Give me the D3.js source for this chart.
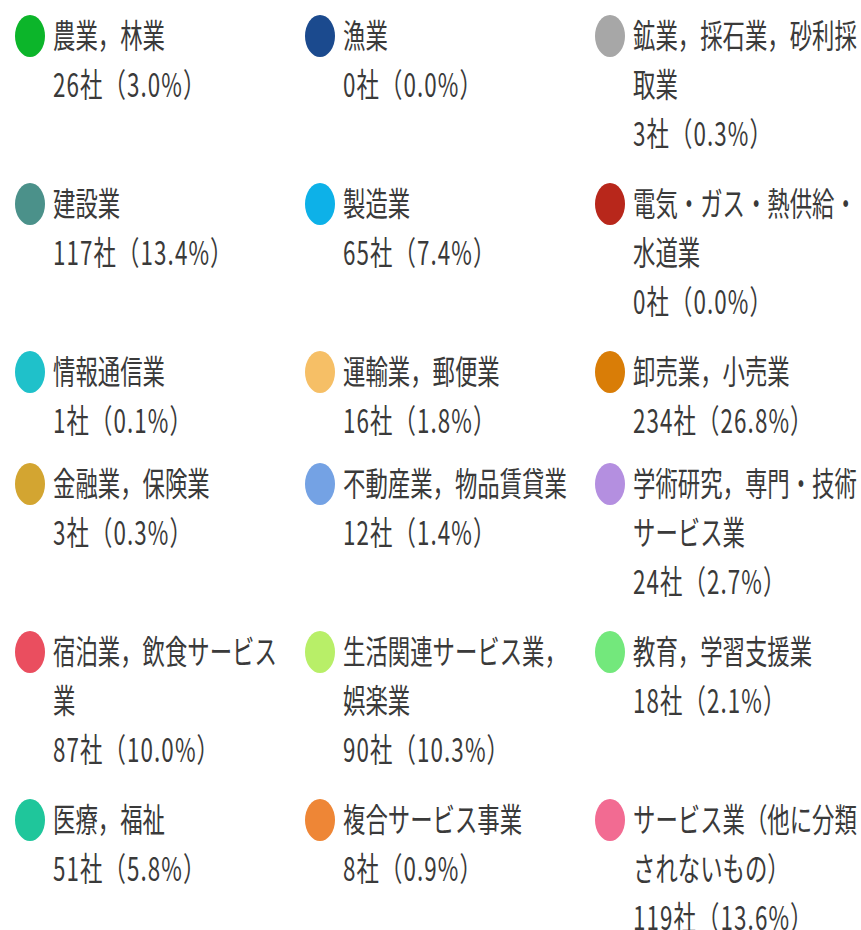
<!DOCTYPE html>
<html>
<head>
<meta charset="utf-8">
<script src="https://cdn.jsdelivr.net/npm/d3@7"></script>
<style>
    body { margin: 0; background: #ffffff; }
</style>
</head>
<body>
<svg id="Legend"></svg>
<script>

    // industry categories
    var industries = [
        "農業，林業", "漁業", "鉱業，採石業，砂利採取業",
        "建設業", "製造業", "電気・ガス・熱供給・水道業",
        "情報通信業", "運輸業，郵便業", "卸売業，小売業",
        "金融業，保険業", "不動産業，物品賃貸業", "学術研究，専門・技術サービス業",
        "宿泊業，飲食サービス業", "生活関連サービス業，娯楽業", "教育，学習支援業",
        "医療，福祉", "複合サービス事業", "サービス業（他に分類されないもの）"
    ]

    var companies = [26, 0, 3, 117, 65, 0, 1, 16, 234, 3, 12, 24, 87, 90, 18, 51, 8, 119]

    var shares = [3.0, 0.0, 0.3, 13.4, 7.4, 0.0, 0.1, 1.8, 26.8, 0.3, 1.4, 2.7, 10.0, 10.3, 2.1, 5.8, 0.9, 13.6]

    var colors = [
        "#0cb52a", "#1b4a8e", "#a7a7a7",
        "#4b918a", "#0db1e8", "#b8271b",
        "#1fc1ca", "#f6bf66", "#d97d07",
        "#d3a531", "#74a2e4", "#b48fe0",
        "#ea4e5f", "#b8ef68", "#73e87c",
        "#1fc69b", "#ee8636", "#f26b92"
    ]

    var dimensions = {
        width: 861,
        height: 930,
        margin: { top: 36, left: 0 },
        colWidth: 290,
        textWidth: 226,
        lineStep: 49,
        rowUnit: 56,
        fontSize: 22.4,
        stretchY: 1.45
    }

    var data = industries.map((name, i) => ({
        name: name,
        count: companies[i],
        share: shares[i],
        color: colors[i],
        col: i % 3,
        row: Math.floor(i / 3)
    }))

    var svg = d3.select("#Legend")
                .attr("width", dimensions.width)
                .attr("height", dimensions.height)

    // measure text to wrap the names like the page does
    var probe = svg.append("text")
                   .attr("font-family", "'Noto Sans CJK JP', 'Noto Sans', sans-serif")
                   .style("font-size", dimensions.fontSize + "px")

    data.forEach(d => {
        var lines = []
        var current = ""
        Array.from(d.name).forEach(ch => {
            probe.text(current + ch)
            if (current && probe.node().getComputedTextLength() > dimensions.textWidth) {
                lines.push({ text: current, count: false })
                current = ch
            } else {
                current += ch
            }
        })
        if (current) lines.push({ text: current, count: false })
        lines.push({ text: `${d.count}社（${d.share.toFixed(1)}%）`, count: true })
        d.lines = lines
    })
    probe.remove()

    // each row is as tall as its tallest item
    var rows = d3.rollup(data, v => d3.max(v, d => d.lines.length), d => d.row)
    var rowTop = []
    var y = dimensions.margin.top
    d3.range(rows.size).forEach(r => {
        rowTop[r] = y
        y += rows.get(r) * dimensions.rowUnit
    })

    var xScale = d3.scaleLinear()
                   .domain([0, 1])
                   .range([dimensions.margin.left, dimensions.margin.left + dimensions.colWidth])

    var items = svg.append("g")
                   .selectAll("g")
                   .data(data)
                   .enter()
                   .append("g")
                   .attr("transform", d => `translate(${xScale(d.col)}, ${rowTop[d.row]})`)

    items.append("ellipse")
         .attr("cx", 30)
         .attr("cy", 0)
         .attr("rx", 15)
         .attr("ry", 21)
         .attr("fill", d => d.color)

    items.selectAll("text")
         .data(d => d.lines)
         .enter()
         .append("text")
         .attr("transform", (d, i) => `translate(53, ${i * dimensions.lineStep}) scale(1, ${dimensions.stretchY})`)
         .attr("dy", "0.37em")
         .attr("font-family", "'Noto Sans CJK JP', 'Noto Sans', sans-serif")
         .attr("fill", "#3a3a3a")
         .style("font-size", dimensions.fontSize + "px")
         .style("letter-spacing", d => d.count ? "1.1px" : "0px")
         .text(d => d.text)

</script>
</body>
</html>
